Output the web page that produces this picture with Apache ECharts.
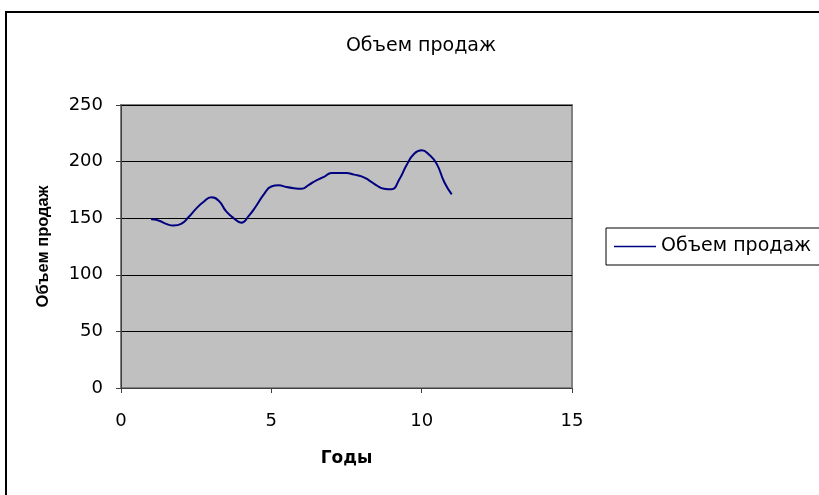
<!DOCTYPE html>
<html>
  <head>
    <meta charset="utf-8" />
    <title>Объем продаж</title>
    <script src="https://cdn.jsdelivr.net/npm/echarts@6/dist/echarts.min.js"></script>
    <style>
      * {
        margin: 0;
        padding: 0;
        box-sizing: border-box;
      }
      body {
        background: #fff;
      }
    </style>
  </head>
  <body>
    <div id="main" style="width: 819px; height: 495px"></div>
    <script type="text/javascript">
      var myChart = echarts.init(document.getElementById("main"));

      // годы (шаг 0.25) и объем продаж
      const years = [
        1, 1.25, 1.5, 1.75, 2, 2.25, 2.5, 2.75, 3, 3.25, 3.5, 3.75, 4, 4.25,
        4.5, 4.75, 5, 5.25, 5.5, 5.75, 6, 6.25, 6.5, 6.75, 7, 7.25, 7.5, 7.75,
        8, 8.25, 8.5, 8.75, 9, 9.25, 9.5, 9.75, 10, 10.25, 10.5, 10.75, 11,
      ];
      const sales = [
        149, 148, 145, 143.5, 145, 151, 158.5, 164.5, 168.5, 165.5, 156, 150,
        146, 152, 161, 171, 178, 179, 177.5, 176.5, 176, 179.5, 183.5, 186.5,
        190, 190, 190, 188.5, 187, 183.5, 179, 176, 175.5, 184, 197, 207, 210,
        206, 198, 182, 171,
      ];
      const seriesName = "Объем продаж";

      const font = "Liberation Sans, Arial, sans-serif";
      const wideFont = "DejaVu Sans, sans-serif";

      var option = {
        animation: false,
        title: {
          text: "Объем продаж",
          left: 416,
          top: 32,
          textAlign: "center",
          textStyle: {
            fontFamily: wideFont,
            fontSize: 19,
            fontWeight: "normal",
            color: "#000",
          },
        },
        graphic: [
          {
            type: "rect",
            shape: { x: 6, y: 12, width: 900, height: 600 },
            style: { fill: "none", stroke: "#000", lineWidth: 2 },
            silent: true,
          },
        ],
        legend: {
          left: 606,
          top: 228,
          orient: "vertical",
          borderColor: "#000",
          borderWidth: 1,
          padding: [9, 40, 9, 8],
          itemWidth: 42,
          itemHeight: 1.5,
          textStyle: { fontFamily: wideFont, fontSize: 19, color: "#000" },
          data: [{ name: seriesName, icon: "rect" }],
        },
        grid: {
          left: 121,
          top: 105,
          width: 451,
          height: 283,
          show: true,
          backgroundColor: "#c0c0c0",
          borderColor: "#808080",
          borderWidth: 2,
          containLabel: false,
        },
        xAxis: {
          type: "value",
          min: 0,
          max: 15,
          interval: 5,
          name: "Годы",
          nameLocation: "middle",
          nameGap: 62,
          nameTextStyle: {
            fontFamily: wideFont,
            fontSize: 17,
            fontWeight: "bold",
            color: "#000",
          },
          axisLine: { show: true, lineStyle: { color: "#404040", width: 1 } },
          axisTick: {
            show: true,
            inside: false,
            length: 5,
            lineStyle: { color: "#404040" },
          },
          axisLabel: {
            fontFamily: wideFont,
            fontSize: 18,
            color: "#000",
            margin: 24,
          },
          splitLine: { show: false },
        },
        yAxis: {
          type: "value",
          min: 0,
          max: 250,
          interval: 50,
          name: "Объем продаж",
          nameLocation: "middle",
          nameGap: 69,
          nameTextStyle: {
            fontFamily: font,
            fontSize: 16.5,
            fontWeight: "bold",
            color: "#000",
          },
          axisLine: { show: true, lineStyle: { color: "#404040", width: 1 } },
          axisTick: {
            show: true,
            inside: false,
            length: 5,
            lineStyle: { color: "#404040" },
          },
          axisLabel: {
            fontFamily: wideFont,
            fontSize: 18,
            color: "#000",
            margin: 18,
          },
          splitLine: { show: true, lineStyle: { color: "#000", width: 1 } },
        },
        series: [
          {
            name: seriesName,
            type: "line",
            smooth: true,
            symbol: "none",
            color: "#000080",
            lineStyle: { color: "#000080", width: 2 },
            data: years.map((y, i) => [y, sales[i]]),
          },
        ],
      };

      myChart.setOption(option);
    </script>
  </body>
</html>
